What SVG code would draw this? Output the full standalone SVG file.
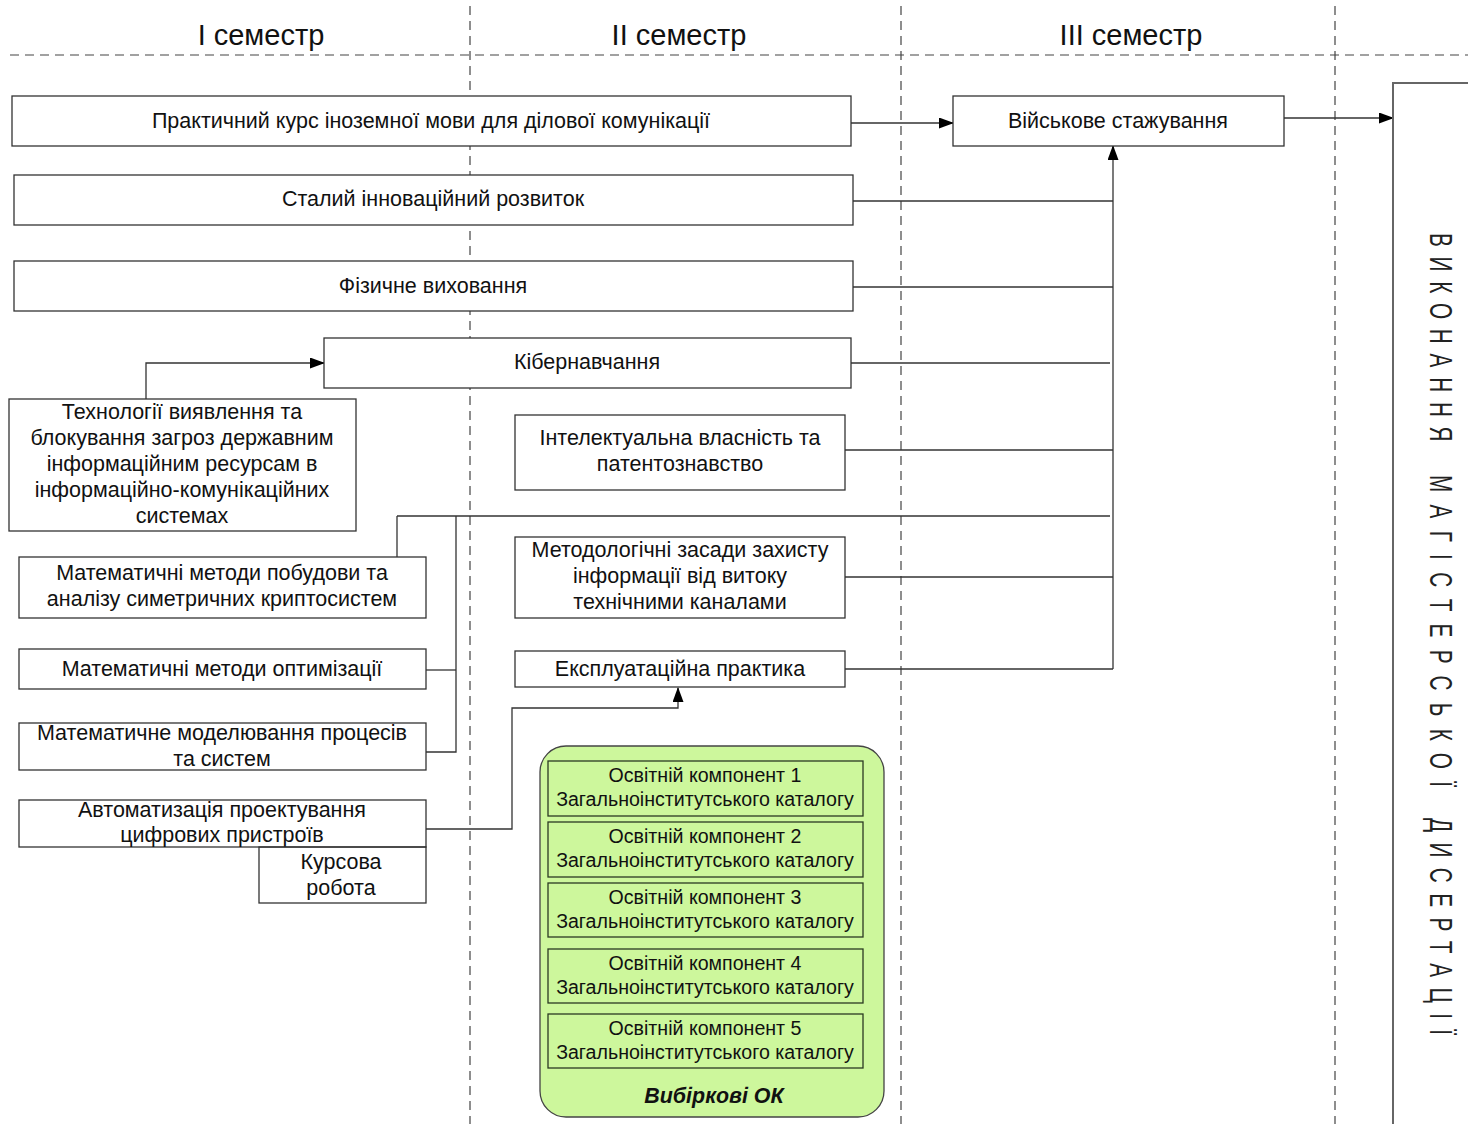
<svg xmlns="http://www.w3.org/2000/svg" width="1468" height="1124" viewBox="0 0 1468 1124">
<defs>
<marker id="arr" markerUnits="userSpaceOnUse" markerWidth="15" markerHeight="11" refX="14" refY="5.5" orient="auto">
<path d="M0,0 L15,5.5 L0,11 Z" fill="#000"/>
</marker>
<style>
text{font-family:"Liberation Sans",Arial,sans-serif;fill:#111;text-anchor:middle}
.t{font-size:21.5px}
.h{font-size:29px}
.g{font-size:19.6px}
.box{fill:#fff;stroke:#333;stroke-width:1.3}
.gbox{fill:#cdf79c;stroke:#2a3a22;stroke-width:1.3}
.dash{stroke:#444;stroke-width:1.2;stroke-dasharray:9 6;fill:none}
.c{stroke:#333;stroke-width:1.3;fill:none}
.v{font-size:32px;text-anchor:start;fill:#222}
</style>
</defs>
<rect width="1468" height="1124" fill="#fff"/>
<g id="grid">
<line class="dash" x1="10" y1="55" x2="1468" y2="55"/>
<line class="dash" x1="470" y1="6" x2="470" y2="1124"/>
<line class="dash" x1="901" y1="6" x2="901" y2="1124"/>
<line class="dash" x1="1335" y1="6" x2="1335" y2="1124"/>
<text class="h" x="261" y="45">I семестр</text>
<text class="h" x="679" y="45">II семестр</text>
<text class="h" x="1131" y="45">III семестр</text>
</g>
<g id="connectors">
<line class="c" x1="851" y1="123" x2="953" y2="123" marker-end="url(#arr)"/>
<line class="c" x1="1284" y1="118" x2="1393" y2="118" marker-end="url(#arr)"/>
<line class="c" x1="853" y1="201" x2="1113" y2="201"/>
<line class="c" x1="853" y1="287" x2="1113" y2="287"/>
<line class="c" x1="851" y1="363" x2="1110" y2="363"/>
<line class="c" x1="845" y1="450" x2="1113" y2="450"/>
<line class="c" x1="397" y1="516" x2="1110" y2="516"/>
<line class="c" x1="845" y1="577" x2="1113" y2="577"/>
<line class="c" x1="845" y1="669" x2="1113" y2="669"/>
<polyline class="c" points="1113,669 1113,146" marker-end="url(#arr)"/>
<polyline class="c" points="146,399 146,363 324,363" marker-end="url(#arr)"/>
<polyline class="c" points="397,557 397,516"/>
<polyline class="c" points="456,516 456,752 426,752"/>
<polyline class="c" points="426,670 456,670"/>
<polyline class="c" points="426,829 512,829 512,708 678,708 678,688" marker-end="url(#arr)"/>
</g>
<g id="n-lang"><rect class="box" x="12" y="96" width="839" height="50"/><text class="t" x="431" y="128">Практичний курс іноземної мови для ділової комунікації</text></g>
<g id="n-mil"><rect class="box" x="953" y="96" width="331" height="50"/><text class="t" x="1118" y="128">Військове стажування</text></g>
<g id="n-sust"><rect class="box" x="14" y="175" width="839" height="50"/><text class="t" x="433" y="206">Сталий інноваційний розвиток</text></g>
<g id="n-phys"><rect class="box" x="14" y="261" width="839" height="50"/><text class="t" x="433" y="293">Фізичне виховання</text></g>
<g id="n-cyber"><rect class="box" x="324" y="338" width="527" height="50"/><text class="t" x="587" y="369">Кібернавчання</text></g>
<g id="n-tech"><rect class="box" x="9" y="399" width="347" height="132"/>
<text class="t" x="182" y="419">Технології виявлення та</text>
<text class="t" x="182" y="445">блокування загроз державним</text>
<text class="t" x="182" y="471">інформаційним ресурсам в</text>
<text class="t" x="182" y="497">інформаційно-комунікаційних</text>
<text class="t" x="182" y="523">системах</text></g>
<g id="n-ip"><rect class="box" x="515" y="415" width="330" height="75"/>
<text class="t" x="680" y="445">Інтелектуальна власність та</text>
<text class="t" x="680" y="471">патентознавство</text></g>
<g id="n-leak"><rect class="box" x="515" y="537" width="330" height="81"/>
<text class="t" x="680" y="557">Методологічні засади захисту</text>
<text class="t" x="680" y="583">інформації від витоку</text>
<text class="t" x="680" y="609">технічними каналами</text></g>
<g id="n-exp"><rect class="box" x="515" y="651" width="330" height="36"/><text class="t" x="680" y="676">Експлуатаційна практика</text></g>
<g id="n-sym"><rect class="box" x="19" y="557" width="407" height="61"/>
<text class="t" x="222" y="580">Математичні методи побудови та</text>
<text class="t" x="222" y="606">аналізу симетричних криптосистем</text></g>
<g id="n-opt"><rect class="box" x="19" y="649" width="407" height="40"/><text class="t" x="222" y="676">Математичні методи оптимізації</text></g>
<g id="n-model"><rect class="box" x="19" y="723" width="407" height="47"/>
<text class="t" x="222" y="740">Математичне моделювання процесів</text>
<text class="t" x="222" y="766">та систем</text></g>
<g id="n-auto"><rect class="box" x="19" y="800" width="407" height="47"/>
<text class="t" x="222" y="817">Автоматизація проектування</text>
<text class="t" x="222" y="842">цифрових пристроїв</text></g>
<g id="n-course"><rect class="box" x="259" y="847" width="167" height="56" style="fill:none"/>
<text class="t" x="341" y="869">Курсова</text>
<text class="t" x="341" y="895">робота</text></g>
<g id="n-elective">
<rect class="gbox" x="540" y="746" width="344" height="371" rx="26" ry="26" style="stroke:#444"/>
<rect class="gbox" x="548" y="761" width="315" height="55"/>
<text class="g" x="705" y="782">Освітній компонент 1</text><text class="g" x="705" y="806">Загальноінститутського каталогу</text>
<rect class="gbox" x="548" y="822" width="315" height="55"/>
<text class="g" x="705" y="843">Освітній компонент 2</text><text class="g" x="705" y="867">Загальноінститутського каталогу</text>
<rect class="gbox" x="548" y="883" width="315" height="54"/>
<text class="g" x="705" y="904">Освітній компонент 3</text><text class="g" x="705" y="928">Загальноінститутського каталогу</text>
<rect class="gbox" x="548" y="949" width="315" height="54"/>
<text class="g" x="705" y="970">Освітній компонент 4</text><text class="g" x="705" y="994">Загальноінститутського каталогу</text>
<rect class="gbox" x="548" y="1014" width="315" height="54"/>
<text class="g" x="705" y="1035">Освітній компонент 5</text><text class="g" x="705" y="1059">Загальноінститутського каталогу</text>
<text x="714" y="1103" style="font-size:21.4px;font-weight:bold;font-style:italic">Вибіркові ОК</text>
</g>
<g id="n-thesis">
<path d="M1393,1124 V83 H1470" fill="none" stroke="#666" stroke-width="2"/>
<text class="v" transform="translate(1430,233) rotate(90) scale(0.65,1)" textLength="321" lengthAdjust="spacing">ВИКОНАННЯ</text>
<text class="v" transform="translate(1430,475) rotate(90) scale(0.65,1)" textLength="480" lengthAdjust="spacing">МАГІСТЕРСЬКОЇ</text>
<text class="v" transform="translate(1430,818) rotate(90) scale(0.65,1)" textLength="334" lengthAdjust="spacing">ДИСЕРТАЦІЇ</text>
</g>
</svg>
